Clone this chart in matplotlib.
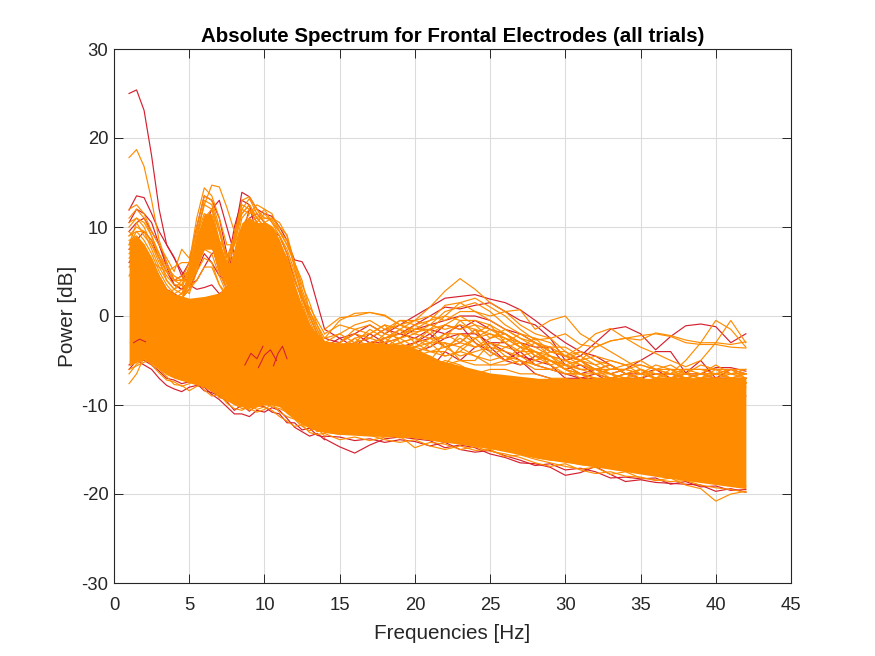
import matplotlib
matplotlib.use("Agg")
import matplotlib.pyplot as plt

plt.rcParams['font.family'] = ['Liberation Sans', 'DejaVu Sans']
plt.rcParams['axes.unicode_minus'] = False

RED = '#d62030'
ORANGE = '#ff8c00'
INK = '#262626'

title = 'Absolute Spectrum for Frontal Electrodes (all trials)'
xlabel = 'Frequencies [Hz]'
ylabel = 'Power [dB]'
xticks = [0, 5, 10, 15, 20, 25, 30, 35, 40, 45]
yticks = [-30, -20, -10, 0, 10, 20, 30]

# dense core of the bundle
body_f = [1, 1.5, 2, 2.5, 3, 3.5, 4, 5, 6, 7, 7.5, 8, 8.5, 9, 9.5, 10, 10.5, 11, 11.5, 12, 12.5, 13, 13.5, 14, 15, 17, 19.5, 21.7, 25, 28.2, 31.4, 36.3, 42]
body_hi = [8.5, 9, 8, 6.5, 4.5, 3, 2.5, 2, 2.2, 2.6, 3.5, 7.5, 10.5, 11, 10.5, 10.5, 10, 8.5, 6.5, 3.5, 1, -1, -2, -2.8, -3, -3, -3.2, -5, -6.4, -7, -7, -7, -7]
body_lo = [-5.6, -5.2, -4.8, -5.4, -6, -6.6, -7, -7.5, -8, -9, -9.5, -10, -10.2, -10.3, -10.2, -10, -10, -10.2, -11, -11.6, -12.2, -12.6, -12.9, -13.1, -13.3, -13.5, -13.6, -14.1, -14.9, -16, -16.8, -18.1, -19.4]

# arch of the theta peak around 6 Hz
arch_f = [4.5, 5, 5.5, 6, 6.5, 7, 7.5, 8]
arch_hi = [2.5, 5.5, 9, 11.5, 11.5, 8.5, 6, 6]
arch_lo = [2, 3.5, 5.5, 7.5, 7.5, 5, 3.5, 4]

# 1 to 14 Hz traces
low_f = [1, 1.5, 2, 2.5, 3, 3.5, 4, 4.5, 5, 5.5, 6, 6.5, 7, 7.5, 8, 8.5, 9, 9.5, 10, 10.5, 11, 11.5, 12, 12.5, 13, 13.5, 14]
rl1 = [25.0, 25.4, 23.1, 18, 12, 8, 6.5, 5, 3.5, 3, 3.2, 3.5, 2.5, 3, 4, 4.5, 4, 4.5, 5, 4, 3, 2, 0.5, -1, -2.5, -3.5, -4.5]
rl2 = [11.9, 13.5, 13.3, 11.5, 9.5, 8, 6.6, 4.5, 3.5, 6.5, 10, 12, 13, 10, 7, 9, 12, 10.5, 9, 8, 6.5, 5, 2.5, 0.5, -1, -2.5, -4]
rl3 = [9.5, 10.5, 11, 9.5, 8, 6, 4, 4.5, 6, 10, 13.5, 13, 11, 7, 5, 8, 10, 9, 8.5, 7.5, 6, 4.5, 2, 0, -2, -3, -4]
rl4 = [7.5, 8.5, 9.5, 8.5, 6.5, 5, 3.5, 3, 4, 6.5, 9, 8, 5, 3, 9, 13.9, 13.4, 12, 11.5, 11.2, 10, 8.5, 6.3, 6.1, 4.5, 1.5, -1.5]
rl5 = [10.5, 12, 11.5, 10.5, 8, 5.5, 3.5, 3, 3.5, 4, 5.5, 7, 7.5, 5, 10, 13, 12.5, 9, 6, 5, 4, 3, 1, -1, -3, -4, -5]
rl6 = [6, 7.5, 7, 6, 4.5, 3, 2.5, 2, 3, 5, 7, 6, 4.5, 4, 7, 9.5, 11, 11.5, 10.5, 9.5, 9, 7, 4, 2, 0, -2, -4]
ol1 = [17.8, 18.7, 16.8, 13, 8.5, 6, 4, 3.5, 2.5, 5, 8, 9, 7, 5, 5, 6, 7, 6, 5, 4, 3, 2, 0.5, -1, -3, -4, -5]
ol2 = [12, 12.5, 11.5, 9.5, 8, 6.5, 5, 7.5, 6.5, 9.5, 12.5, 14.7, 14.5, 12.2, 9.5, 11.5, 12.5, 11, 11, 10.8, 9.5, 8, 6, 3.5, 1.5, -1, -2.5]
ol3 = [11, 12, 11, 9, 7, 5, 4, 4, 6, 11, 14.4, 13.5, 11, 8, 8, 12, 13.2, 11.5, 10.5, 11, 10, 9.1, 6, 3, 0.5, -1.5, -3]
ol4 = [10, 11, 10, 8, 6, 4.5, 3.5, 3.5, 5.5, 10, 13.5, 13, 10, 6.5, 9, 13, 13.4, 12, 10.5, 10, 9, 7.5, 5, 2.5, 0, -2, -3.5]
ol5 = [9, 10, 9.5, 7.5, 5.5, 4, 3, 3.5, 5, 9, 12.5, 12, 8.5, 5, 8, 11.5, 12.5, 11, 10, 9.5, 8, 6.5, 4, 2, -0.5, -2.5, -4]
ol6 = [8, 9.5, 8.5, 7, 5, 3.5, 2.5, 3, 5.5, 9, 11.5, 11, 8, 4.5, 7, 11, 12, 10.5, 11.5, 10.5, 9, 7, 4.5, 1.5, -1, -3, -4.5]
ol7 = [9.5, 8.5, 8, 6.5, 4.5, 3, 2, 2.5, 4.5, 8, 10.5, 10, 7, 3.5, 7, 10, 11, 10, 10.5, 10, 8.5, 6, 3, 1, -1.5, -3, -4]
ol8 = [7, 8, 7.5, 6, 4, 3, 2, 2.5, 4, 7, 9.5, 9, 6, 3, 6.5, 9.5, 10.5, 11, 10, 9.5, 7.5, 5.5, 3, 0.5, -2, -3.5, -5]
ol9 = [6.5, 7.5, 6.5, 5, 3.5, 2.5, 2, 2, 3.5, 6, 8.5, 8, 5, 3, 6, 9, 10, 10.5, 9.5, 9, 8, 6, 3.5, 1, -1, -3, -4.5]
ol10 = [5.5, 6.5, 6, 4.5, 3.5, 2.5, 2, 2, 3, 5.5, 7.5, 7, 4.5, 2.5, 5.5, 8, 9.5, 10, 9, 8.5, 7, 5, 2.5, 0, -2, -3.5, -4.5]
ol11 = [8.5, 9, 8, 5.5, 3, 2.5, 3, 4, 4, 5, 6.5, 6, 3.5, 2.5, 5, 7.5, 9, 9.5, 10, 9, 7.5, 5, 2, -0.5, -2.5, -4, -5]
ol12 = [4.5, 6, 5.5, 4, 3, 2.5, 2, 2, 3, 4, 5.5, 5.5, 3.5, 2, 4.5, 7, 8.5, 9, 8.5, 8, 6.5, 4.5, 2, -1, -2.5, -3.5, -5]
ol13 = [10.5, 11, 10.5, 9, 6.5, 4, 3, 2.5, 4, 8.5, 13, 12.5, 9.5, 6, 8.5, 12, 11.5, 12.5, 12, 10.5, 9.5, 8.5, 5.5, 2.5, 0, -2, -3]
ol14 = [7.5, 8, 7, 6, 5.5, 5, 5.5, 6, 6, 7, 8, 9.5, 8.5, 7, 6.5, 7, 8, 7.5, 8.5, 8, 8, 6, 3, 1, 1, -0.5, -2]
ol18 = [9, 9.5, 9.5, 8.5, 7, 5.5, 4.5, 4, 4.5, 7.5, 11, 12, 9.5, 6.5, 8, 10, 11.5, 12, 11, 11, 10.5, 9, 5.5, 2, 0.5, -1, -3]
ol19 = [8, 10.5, 9, 8, 6.5, 5, 4, 4.5, 5, 8, 10, 10.5, 7.5, 5.5, 9, 12.5, 12, 11, 12, 11.5, 9.5, 8, 6, 4, 0.5, -1.5, -3.5]
rl7 = [-6, -5, -5.5, -6, -7, -7.8, -8.2, -8.5, -8, -7.8, -8, -8.8, -9.4, -10.2, -11, -11, -11.3, -10.6, -10.8, -10.3, -10.6, -11.5, -12.5, -13, -13.5, -13.2, -13.9]
rl8 = [-5.5, -4.8, -5, -5.5, -6.2, -7, -7.2, -7.6, -7.4, -7.6, -8.4, -8.6, -9, -9.6, -10.6, -10, -10.7, -10, -10.2, -10.8, -11, -12, -12, -12.8, -12.6, -13.4, -13.6]
ol15 = [-7.6, -6.5, -4.6, -5.5, -6.4, -7.2, -7.4, -7.9, -7.6, -7.2, -8.3, -9, -8.8, -9.8, -10.4, -10.6, -10.1, -10.5, -10.2, -10.6, -11.3, -11.8, -12.4, -12.2, -13.1, -13.3, -13.2]
ol16 = [-6.5, -5.4, -4.9, -5.2, -6, -6.8, -7.7, -7.8, -8.4, -7.9, -7.7, -8.1, -9.2, -9.3, -9.9, -10.4, -10.4, -10.8, -10.5, -9.9, -10.8, -11.3, -11.6, -12.4, -12.9, -12.6, -13.5]
ol17 = [-6, -5.6, -5.2, -4.9, -5.8, -6.3, -6.8, -7.2, -7, -7.4, -7.3, -8.5, -8.4, -9.6, -9.5, -10, -10.6, -10.2, -9.8, -10.2, -10.4, -10.8, -11.2, -11.9, -12.2, -13, -12.8]

# short red strands showing through the core
fleck1_f = [8.7, 9.1, 9.5, 9.9]
fleck1_v = [-5.5, -4.2, -4.8, -3.4]
fleck2_f = [9.6, 10, 10.4, 10.8]
fleck2_v = [-5.8, -4.4, -3.8, -5]
fleck3_f = [10.6, 10.9, 11.2, 11.5]
fleck3_v = [-5.6, -4.2, -3.4, -4.8]
fleck4_f = [1.3, 1.7, 2.1]
fleck4_v = [-3, -2.6, -2.9]

# 14 to 42 Hz traces
high_f = list(range(14, 43))
rh1 = [-1.5, -2.5, -2, -1, -2, -1, 0, 1, 2, 2.2, 2.4, 1.9, 1.5, 0.7, -0.5, -1.8, -3, -4, -4.5, -5.5, -6.5, -7, -7.5, -8, -8.5, -8, -8.5, -9, -9]
rh2 = [-3, -3.5, -3, -2.5, -1.5, -2, -1, 0, 1, 0.8, 1.2, 1.5, 0.5, -0.5, -1, -2.5, -5, -4.5, -3, -1.5, -1.2, -2, -3.8, -2.3, -1.1, -0.9, -1.2, -3, -2]
rh3 = [-3.5, -4, -3.5, -3, -3, -2.5, -1.5, -1, -0.5, 0, 0, -0.5, -1.5, -2, -3, -4, -4.5, -5, -6, -6.5, -6, -5, -4, -4, -6.4, -5, -7, -6, -6.5]
rh4 = [-3, -4.5, -4, -4, -3.5, -3.5, -3, -2.5, -1, -1.5, -0.5, -1.5, -2, -3, -3.5, -3.5, -5.5, -6.5, -6, -5.5, -6.5, -6.5, -6, -7, -6.5, -6.5, -5.8, -5.8, -6.2]
rh5 = [-4, -5, -4.5, -5, -4.5, -4.5, -4, -3.5, -2.5, -2, -2, -3, -3, -4.5, -5, -5.5, -7, -7, -7, -7.5, -7.5, -8, -7.5, -7, -7.5, -7, -7, -7, -7.5]
rh6 = [-4, -5.5, -5, -5.5, -5, -5.5, -5, -6, -4, -5, -3.5, -3, -4, -5, -6.5, -7, -8, -7.5, -8, -7, -7.5, -7.5, -7, -7.5, -7.5, -7.5, -7.5, -7.5, -7.5]
rh9 = [-2.5, -3, -2, -3, -2.5, -2, -2.5, -1.5, -2, -1, -3, -4, -5, -5.5, -4.5, -5, -6, -5.5, -6.5, -7, -6.5, -7, -6.5, -6.5, -7, -6.5, -7, -7, -7]
rh10 = [-3.5, -2.5, -3.5, -2, -3, -4, -3, -2, -3.5, -3, -1.5, -3.5, -5, -4, -5.5, -6, -6.5, -7, -6.5, -7.5, -7, -7, -7.5, -7, -7, -7.5, -7, -7.5, -7]
ro_a = [-2, -1, -1.5, -2, -1, -1.5, -0.5, 1, 2.8, 4.2, 3, 1.5, 0.5, -1, -2, -2.5, -4, -5, -6, -6.5, -7, -7, -7.5, -7.5, -8, -8, -8, -7.5, -8]
oh1 = [-2.5, -0.5, 0.3, 0.4, 0.1, -1, -1.5, -0.5, 1.2, 1.5, 0.5, 0, 0.5, 0.7, -1.5, -0.5, 0, -2, -3, -4, -5, -6, -7, -7, -7, -7.5, -7.5, -8, -7.5]
oh2 = [-1.5, -0.2, 0, 0.4, 0, -1, -1.8, -1.5, 0, 1.5, 2, 1, 0, -1.5, -2.7, -2.5, -2, -3.2, -3.5, -2.8, -2.5, -2.7, -1.9, -2.2, -2.7, -3, -3, -3.2, -2.9]
oh3 = [-3, -2, -1, -0.5, -1.5, -1, -0.5, -1, 0.5, 1, 1.5, 0.5, -1, -2, -3, -4, -4.5, -3.5, -2, -1.4, -2.5, -3.5, -4.2, -5, -5.7, -5, -3, -0.5, -3]
oh4 = [-3.5, -3, -1.5, -1, -2, -0.5, -0.5, 0, -0.5, 0.5, 0.5, -0.5, -1.5, -2.5, -3, -3.5, -4.5, -5, -4.5, -5, -5.5, -5.5, -6, -6.5, -5, -3, -0.5, -1.5, -3.5]
oh5 = [-3.5, -4, -3, -2.5, -1.5, -0.5, -1, -0.5, 0, -0.5, -0.5, -1, -2, -3, -4, -4.5, -5.5, -5, -3.5, -2.8, -2.5, -2.2, -2, -2.3, -3, -3.2, -3.2, -3.5, -3.6]
oh6 = [-4, -4, -3.5, -3, -2.5, -2, -1.5, -1.5, -1, 0, -1, -1.5, -2.5, -3.5, -4, -5, -5.5, -6, -6.5, -6, -6, -6.5, -7, -6.5, -7, -6.5, -6.5, -6.5, -6.5]
oh7 = [-4.5, -4.5, -4, -3.5, -3, -2.5, -2, -1, -1.5, -1, -1.5, -2, -3, -4, -4, -5, -6, -6.5, -6.5, -7, -7, -6.5, -7, -7, -6.5, -7, -7, -7, -7]
oh8 = [-4.5, -5, -4.5, -3.5, -3.5, -3, -2.5, -3, -2, -2, -2.5, -1.5, -2, -3, -4.5, -5, -6, -6.5, -7, -7, -6.5, -7, -7.5, -7, -7, -7, -6.5, -7, -7]
oh9 = [-5, -5, -4.5, -4, -4, -3.5, -3.5, -3, -3, -3.5, -2.5, -2, -2.5, -3.5, -4, -5, -5.5, -6.5, -7, -7.5, -7.5, -7.5, -7, -7.5, -7.5, -7, -7, -7.5, -7.5]
oh10 = [-4.5, -5, -5, -4.5, -3.5, -4, -3.5, -2.5, -3.5, -3, -3.5, -3, -3.5, -3, -4.5, -5.5, -5, -6, -6, -6.5, -7.5, -7, -7.5, -7.5, -7, -7.5, -7.5, -7, -7.5]
oh11 = [-5, -5.5, -5, -4.5, -4.5, -4, -3, -4, -3.5, -4.5, -4, -3.5, -4, -4.5, -4, -5.5, -6.5, -6.5, -7, -7, -7, -7.5, -7.5, -7.5, -7.5, -7.5, -7.5, -7.5, -7.5]
oh12 = [-4, -4.5, -4, -4.5, -4, -4, -4.5, -4, -4.5, -4, -4.5, -5, -4.5, -5, -5.5, -5, -6, -7, -7.5, -7.5, -7.5, -7.5, -7, -7, -7.5, -7.5, -7, -7.5, -7.5]
oh13 = [-5, -4, -5, -4, -4.5, -3.5, -4.5, -5, -5.5, -5, -5.5, -5.5, -5, -4.5, -5.5, -6, -6.5, -6.5, -7.5, -7.5, -7, -7.5, -7.5, -7.5, -7, -7.5, -7, -7.5, -7]
oh14 = [-4.5, -3.5, -4.5, -4, -3.5, -4.5, -5.5, -6, -5, -5.5, -6.5, -6, -6, -6.5, -6.5, -7, -7, -7.5, -7, -7.5, -7.5, -7, -7.5, -7.5, -7.5, -7, -7.5, -7, -7.5]
oh18 = [-3, -3.5, -2.5, -3.5, -2, -2.5, -1, -2, -1, -1.5, -1, -2.5, -1.5, -2.5, -3.5, -4.5, -5, -5.5, -6, -5.5, -6.5, -6, -6.5, -7, -6, -6.5, -6.5, -6, -6.5]
oh19 = [-2.5, -2, -3, -1.5, -2.5, -1.5, -2, -2.5, -2.5, -0.5, -2, -1, -3, -2, -2.5, -4, -4, -5, -5.5, -6.5, -6, -5.5, -6, -6, -6, -6, -6, -6.5, -6]
oh20 = [-4, -3, -2, -2.5, -3, -1.5, -3, -1.5, -3.5, -2.5, -3.5, -2.5, -2, -3.5, -2.5, -3, -4.5, -4, -5, -6, -5.5, -6.5, -5.5, -6, -6.5, -5.5, -6, -6, -6]
oh21 = [-3, -4, -2.5, -2, -1, -3, -2.5, -3.5, -2, -3, -1.5, -4, -2.5, -3, -4.5, -3.5, -3.5, -4.5, -5.5, -5, -5.5, -5, -6, -5.5, -6.5, -6.5, -5.5, -6.5, -6.5]
oh22 = [-5, -4.5, -3.5, -3, -3.5, -2.5, -3.5, -4, -4, -2, -3, -4.5, -3.5, -4, -3, -4.5, -5, -4, -5, -5.5, -6.5, -6, -6.5, -6.5, -6, -6, -6.5, -6, -7]
oh23 = [-4.5, -4, -3, -4, -2.5, -3.5, -4.5, -3, -4.5, -4, -2.5, -4, -5, -3.5, -5, -4, -4.5, -5.5, -6, -6, -6, -6.5, -6.5, -7, -6.5, -7, -6.5, -7, -6.5]
oh24 = [-5, -5, -4, -5, -4, -3, -4, -5, -3, -5, -5, -3, -4.5, -5.5, -5, -4.5, -6, -5, -6.5, -6.5, -7, -6, -7, -6, -7, -6.5, -7, -6.5, -7]
oh25 = [-4, -4.5, -5, -3, -5, -4.5, -5, -4.5, -5.5, -3.5, -4.5, -5.5, -5.5, -5, -6, -6, -5.5, -6, -6, -7, -6.5, -7, -6, -6.5, -6.5, -7, -6, -7, -6.5]
rh7 = [-13.8, -14.7, -15.4, -14.5, -13.8, -13.6, -13.8, -14, -14.8, -14.5, -14.8, -15.5, -15.9, -16.5, -16.6, -17, -17.9, -17.6, -16.9, -17.8, -18.6, -18.4, -18.7, -18.8, -18.9, -19, -19.7, -19.4, -19.8]
rh8 = [-13.5, -13.6, -14, -13.8, -14.2, -13.9, -14.1, -14.6, -14.2, -15, -15.3, -15.1, -15.7, -16.2, -16.8, -16.6, -17.3, -17.1, -17.5, -18.2, -18.1, -18.3, -18.2, -18.9, -18.6, -19.2, -19.1, -19.6, -19.5]
oh15 = [-13.2, -13.9, -13.6, -14, -13.6, -13.5, -14.8, -14.2, -14.4, -15, -14.7, -15.2, -15.5, -15.9, -16.5, -16.9, -16.6, -17.3, -17.7, -17.5, -18, -18.1, -18.5, -18.2, -19, -19.4, -20.8, -20, -19.7]
oh16 = [-13, -13.3, -13.1, -13.4, -13.9, -14.2, -13.9, -14.6, -15, -14.6, -15.1, -15, -15.8, -15.6, -16.1, -16.5, -16.9, -17.2, -17, -17.8, -17.5, -18.2, -18.4, -18.6, -18.5, -19, -19.3, -19.5, -19.8]
oh17 = [-12.9, -13, -12.8, -13.2, -13.3, -13.7, -13.5, -13.9, -14.2, -14.2, -14.6, -14.9, -15.1, -15.5, -15.9, -16.2, -16.3, -16.7, -16.9, -17.1, -17.4, -17.6, -17.8, -18, -18.2, -18.5, -18.8, -18.9, -19.1]

red_low = [rl1, rl2, rl3, rl4, rl5, rl6, rl7, rl8]
orange_low = [ol1, ol2, ol3, ol4, ol5, ol6, ol7, ol8, ol9, ol10, ol11, ol12, ol13, ol14, ol15, ol16, ol17, ol18, ol19]
red_high = [rh1, rh2, rh3, rh4, rh5, rh6, rh7, rh8, rh9, rh10]
orange_high = [ro_a, oh1, oh2, oh3, oh4, oh5, oh6, oh7, oh8, oh9, oh10, oh11, oh12, oh13, oh14,
               oh15, oh16, oh17, oh18, oh19, oh20, oh21, oh22, oh23, oh24, oh25]

fig = plt.figure(figsize=(8.75, 6.56), dpi=100)
ax = fig.add_axes([114 / 875, 1 - 583 / 656, (791 - 114) / 875, (583 - 49) / 656])

LW = 0.85
for t in red_low:
    ax.plot(low_f, t, color=RED, lw=LW, zorder=3)
for t in red_high:
    ax.plot(high_f, t, color=RED, lw=LW, zorder=3)
for t in orange_low:
    ax.plot(low_f, t, color=ORANGE, lw=LW, zorder=4)
for t in orange_high:
    ax.plot(high_f, t, color=ORANGE, lw=LW, zorder=4)
ax.fill_between(body_f, body_lo, body_hi, color=ORANGE, lw=0, zorder=4.5)
ax.fill_between(arch_f, arch_lo, arch_hi, color=ORANGE, lw=0, zorder=4.5)
for fx, fy in [(fleck1_f, fleck1_v), (fleck2_f, fleck2_v), (fleck3_f, fleck3_v), (fleck4_f, fleck4_v)]:
    ax.plot(fx, fy, color=RED, lw=0.8, zorder=5)

ax.set_xlim(0, 45)
ax.set_ylim(-30, 30)
ax.set_xticks(xticks)
ax.set_yticks(yticks)
ax.grid(True, color='#dcdcdc', lw=0.8, zorder=0)
ax.set_axisbelow(True)
ax.tick_params(direction='in', top=True, right=True, length=6.5, width=0.7, color=INK,
               labelcolor=INK, labelsize=13.3, pad=4)
ax.tick_params(axis='x', pad=10)
for s in ax.spines.values():
    s.set_color(INK)
    s.set_linewidth(0.8)
    s.set_zorder(6)
ax.set_title(title, fontsize=14.8, fontweight='bold', color='black', pad=5)
ax.set_xlabel(xlabel, fontsize=14.9, color=INK, labelpad=7)
ax.set_ylabel(ylabel, fontsize=14.9, color=INK, labelpad=3)

fig.savefig('out.png', dpi=100)
